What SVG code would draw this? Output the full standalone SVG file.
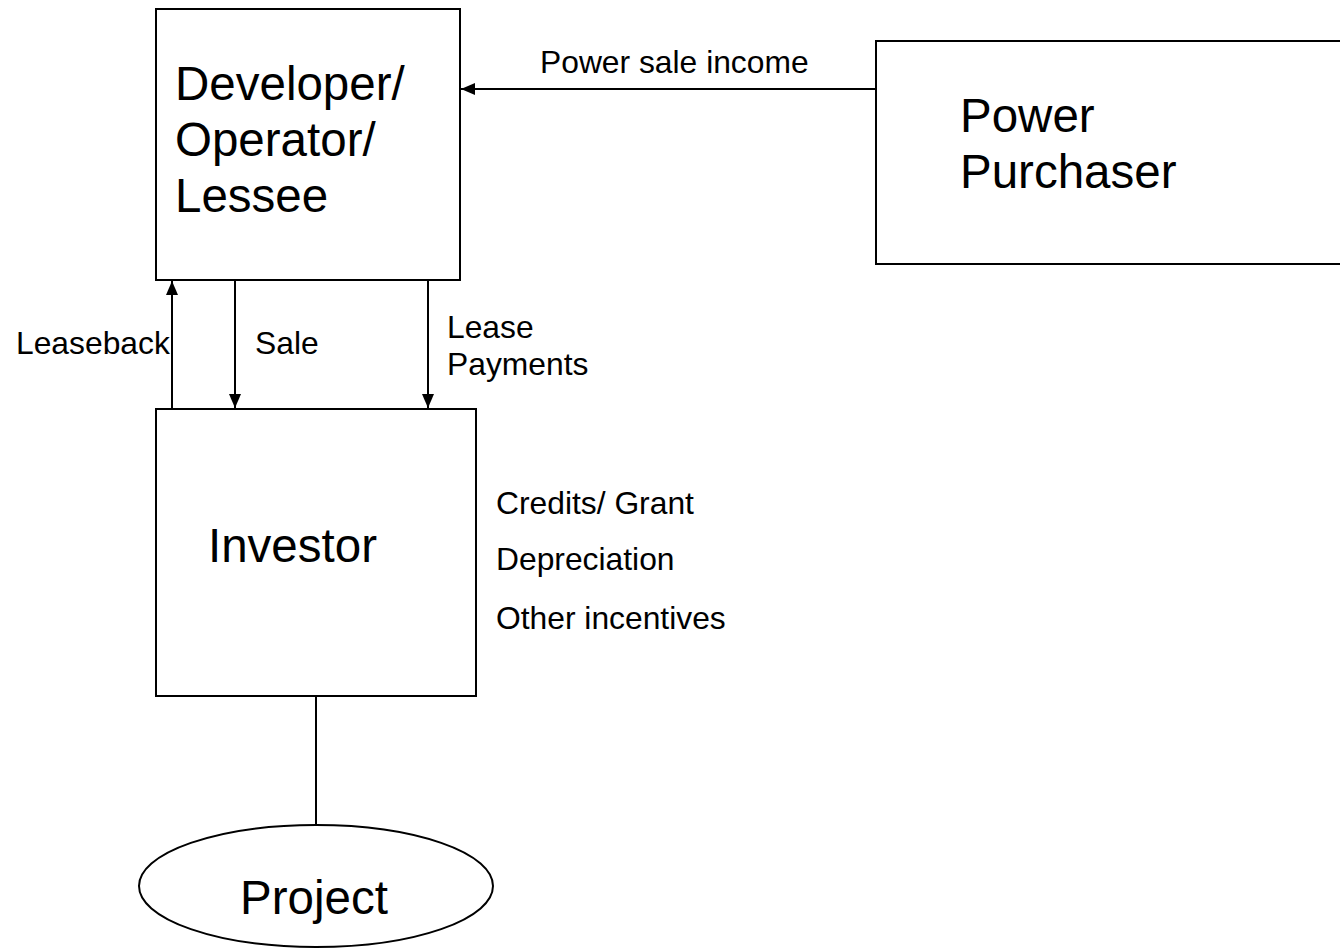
<svg xmlns="http://www.w3.org/2000/svg" width="1340" height="950" viewBox="0 0 1340 950">
<style>
.box{fill:#fff;stroke:#000;stroke-width:2}
.big{font-family:"Liberation Sans",Arial,sans-serif;font-size:47.5px;fill:#000}
.small{font-family:"Liberation Sans",Arial,sans-serif;font-size:31.8px;fill:#000}
.conn{stroke:#000;stroke-width:2;fill:none}
</style>
<defs>
<marker id="ah" markerWidth="14" markerHeight="12" refX="14" refY="6" orient="auto" markerUnits="userSpaceOnUse">
<path d="M0,0 L14,6 L0,12 Z" fill="#000"/>
</marker>
</defs>
<rect width="1340" height="950" fill="#fff"/>
<g id="developer">
<rect class="box" x="156" y="9" width="304" height="271"/>
<text class="big" x="175" y="100">Developer/</text>
<text class="big" x="175" y="156">Operator/</text>
<text class="big" x="175" y="212">Lessee</text>
</g>
<g id="purchaser">
<rect class="box" x="876" y="41" width="470" height="223"/>
<text class="big" x="960" y="132">Power</text>
<text class="big" x="960" y="188">Purchaser</text>
</g>
<g id="investor">
<rect class="box" x="156" y="409" width="320" height="287"/>
<text class="big" x="208" y="562">Investor</text>
</g>
<g id="project">
<ellipse class="box" cx="316" cy="886" rx="177" ry="61"/>
<text class="big" x="240" y="914">Project</text>
</g>
<g id="connectors">
<line class="conn" x1="876" y1="89" x2="461" y2="89" marker-end="url(#ah)"/>
<line class="conn" x1="172" y1="409" x2="172" y2="281" marker-end="url(#ah)"/>
<line class="conn" x1="235" y1="280" x2="235" y2="408" marker-end="url(#ah)"/>
<line class="conn" x1="428" y1="280" x2="428" y2="408" marker-end="url(#ah)"/>
<line class="conn" x1="316" y1="696" x2="316" y2="825"/>
</g>
<g id="labels">
<text class="small" x="540" y="73">Power sale income</text>
<text class="small" x="16" y="354">Leaseback</text>
<text class="small" x="255" y="354">Sale</text>
<text class="small" x="447" y="338">Lease</text>
<text class="small" x="447" y="375">Payments</text>
<text class="small" x="496" y="514">Credits/ Grant</text>
<text class="small" x="496" y="570">Depreciation</text>
<text class="small" x="496" y="629">Other incentives</text>
</g>
</svg>
